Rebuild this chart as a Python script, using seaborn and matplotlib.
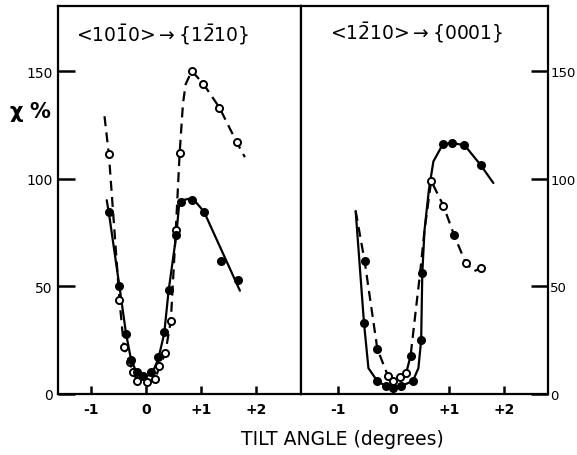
import numpy as np
import pandas as pd
import matplotlib
matplotlib.use("Agg")
import matplotlib.pyplot as plt
import seaborn as sns

# ---------------- data ----------------
# Left panel  <10-10> -> {1-210}
left_dash_curve_t = [-0.75, -0.67, -0.48, -0.40, -0.29, -0.16, 0.02, 0.16, 0.24, 0.35, 0.45, 0.54, 0.61, 0.67, 0.72, 0.83, 1.04, 1.33, 1.64, 1.79]
left_dash_curve_v = [129, 111, 44, 22, 14, 6, 5, 7, 12, 19, 34, 76, 112, 135, 144, 150, 144, 133, 117, 110]
left_open_t = [-0.67, -0.48, -0.40, -0.29, -0.23, -0.16, 0.02, 0.16, 0.24, 0.35, 0.45, 0.54, 0.61, 0.83, 1.04, 1.33, 1.64]
left_open_v = [111.5, 43.7, 22, 14.7, 10, 6, 5.4, 7, 13, 19, 34, 76, 112, 150, 144, 133, 117]

left_solid_curve_t = [-0.71, -0.67, -0.48, -0.36, -0.27, -0.17, -0.05, 0.10, 0.22, 0.33, 0.41, 0.55, 0.60, 0.66, 0.84, 1.05, 1.70]
left_solid_curve_v = [90, 84, 50, 28, 16, 10, 8, 9, 16, 28, 48, 74, 88, 90, 91, 84.7, 48]
left_filled_t = [-0.67, -0.48, -0.36, -0.27, -0.17, -0.05, 0.10, 0.22, 0.33, 0.41, 0.55, 0.64, 0.84, 1.05, 1.35, 1.67]
left_filled_v = [84.3, 50, 28, 16, 10, 8.5, 10, 17, 28.6, 48.3, 74, 89.3, 90.2, 84.7, 62, 53]

# Right panel  <1-210> -> {0001}
right_solid_curve_t = [-0.68, -0.53, -0.45, -0.29, -0.13, 0.13, 0.35, 0.45, 0.50, 0.52, 0.56, 0.64, 0.72, 0.89, 1.06, 1.28, 1.57, 1.80]
right_solid_curve_v = [85, 33, 12, 6, 3.6, 3.6, 6, 12, 25, 56, 76, 95, 108, 116, 116.5, 115.6, 106.4, 98]
right_solid_pts_t = [-0.53, -0.29, -0.13, 0.0, 0.13, 0.35, 0.50, 0.52, 0.89, 1.06, 1.28, 1.57]
right_solid_pts_v = [33, 6, 3.6, 3.0, 3.6, 6, 25, 56, 116, 116.5, 115.6, 106.4]

right_dash_curve_t = [-0.68, -0.52, -0.29, -0.10, 0.00, 0.11, 0.23, 0.31, 0.39, 0.48, 0.56, 0.68, 0.90, 1.09, 1.30, 1.45, 1.57]
right_dash_curve_v = [85, 62, 21, 8.5, 6, 7.7, 9.7, 17.8, 36, 56, 76, 99, 87.5, 74, 61, 57, 58.4]
right_dash_filled_t = [-0.52, -0.29, 0.31, 1.09]
right_dash_filled_v = [62, 21, 17.8, 74]
right_dash_open_t = [-0.10, 0.00, 0.11, 0.23, 0.68, 0.90, 1.30, 1.57]
right_dash_open_v = [8.5, 6, 7.7, 9.7, 99, 87.5, 61, 58.4]

x_ticks = [-1, 0, 1, 2]
x_ticklabels = ["-1", "0", "+1", "+2"]
y_ticks = [0, 50, 100, 150]
y_ticklabels = ["0", "50", "100", "150"]

left_title = r"<10$\bar{1}$0>$\rightarrow${1$\bar{2}$10}"
right_title = r"<1$\bar{2}$10>$\rightarrow${0001}"
x_label = "TILT ANGLE (degrees)"
y_label = r"$\chi$ %"

# ---------------- style ----------------
sns.set_style("white")
plt.rcParams["font.family"] = ["DejaVu Sans"]
plt.rcParams["mathtext.fontset"] = "dejavusans"
plt.rcParams["mathtext.default"] = "regular"
for k in ("text.color", "axes.labelcolor", "xtick.color", "ytick.color", "axes.edgecolor"):
    plt.rcParams[k] = "black"

W, H = 577, 456
fig = plt.figure(figsize=(W / 100, H / 100), dpi=100)
fig.patch.set_facecolor("white")

x0, xd, x1 = 58.3, 300.7, 548.3
ytop, ybot = 7.0, 395.0
axL = fig.add_axes([x0 / W, (H - ybot) / H, (xd - x0) / W, (ybot - ytop) / H])
axR = fig.add_axes([xd / W, (H - ybot) / H, (x1 - xd) / W, (ybot - ytop) / H])

dash = (0, (4.5, 2.8))
lw = 1.6


def line(ax, t, v, ls):
    sns.lineplot(x=t, y=v, ax=ax, sort=False, estimator=None, color="black",
                 linewidth=lw, linestyle=ls, zorder=2)


def pts(ax, t, v, filled):
    sns.scatterplot(x=t, y=v, ax=ax, marker="o", s=26,
                    color="black" if filled else "white", edgecolor="black",
                    linewidth=1.4, zorder=3)


# left panel
line(axL, left_dash_curve_t, left_dash_curve_v, dash)
line(axL, left_solid_curve_t, left_solid_curve_v, "-")
pts(axL, left_open_t, left_open_v, False)
pts(axL, left_filled_t, left_filled_v, True)

# right panel
line(axR, right_solid_curve_t, right_solid_curve_v, "-")
line(axR, right_dash_curve_t, right_dash_curve_v, dash)
pts(axR, right_solid_pts_t, right_solid_pts_v, True)
pts(axR, right_dash_filled_t, right_dash_filled_v, True)
pts(axR, right_dash_open_t, right_dash_open_v, False)

axL.set_xlim(-1.586, 2.80)
axR.set_xlim(-1.67, 2.79)
for ax in (axL, axR):
    ax.set_ylim(0, 180.2)
    ax.set_xticks(x_ticks)
    ax.set_xticklabels(x_ticklabels, fontsize=10, fontweight="bold")
    ax.set_xlabel("")
    ax.set_ylabel("")
    for s in ax.spines.values():
        s.set_visible(True)
        s.set_linewidth(1.6)
        s.set_color("black")
    ax.tick_params(axis="x", direction="in", length=6, width=1.8, pad=6,
                   colors="black", bottom=True, top=False)

axL.set_yticks(y_ticks)
axL.set_yticklabels(y_ticklabels, fontsize=10)
axL.tick_params(axis="y", direction="in", length=12, width=1.8, pad=4,
                left=True, right=False, labelleft=True, labelright=False)

axR.set_yticks(y_ticks)
axR.set_yticklabels(y_ticklabels, fontsize=9.5)
axR.yaxis.tick_right()
axR.tick_params(axis="y", direction="in", length=12, width=1.8, pad=1.5,
                left=False, right=True, labelleft=False, labelright=True)

axL.text(0.432, 0.929, left_title, transform=axL.transAxes, ha="center",
         va="center", fontsize=13.5)
axR.text(0.47, 0.933, right_title, transform=axR.transAxes, ha="center",
         va="center", fontsize=13.5)

fig.text(30 / W, 1 - 112 / H, y_label, ha="center", va="center",
         fontsize=15, fontweight="bold")
fig.text(342 / W, 1 - 440 / H, x_label, ha="center", va="center",
         fontsize=13.5)

fig.savefig("out.png", dpi=100, facecolor="white")
